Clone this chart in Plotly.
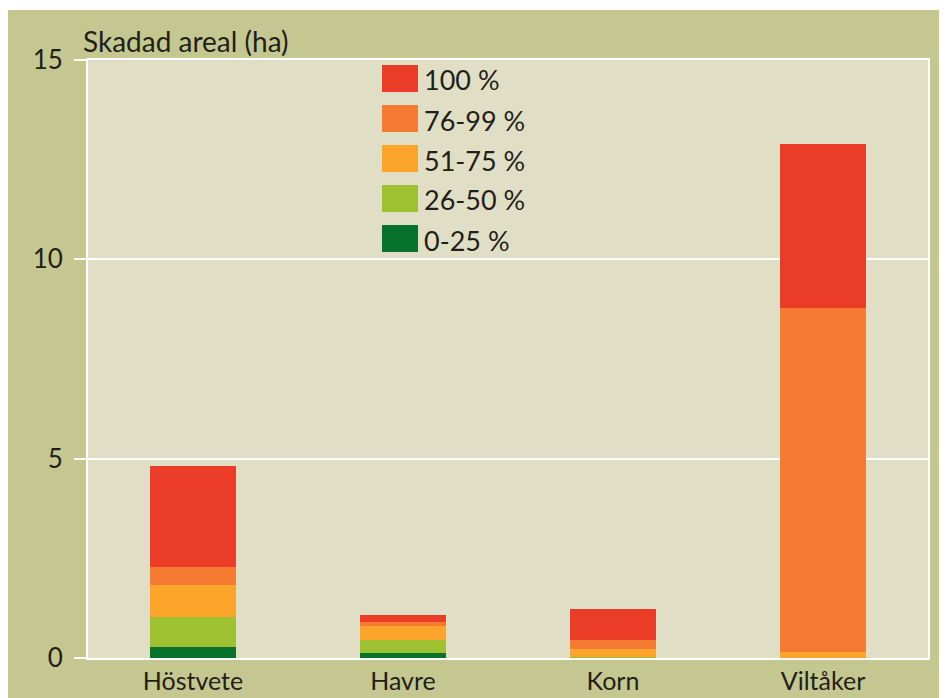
import plotly.graph_objects as go

categories = ["Höstvete", "Havre", "Korn", "Viltåker"]
series_names = ["0-25 %", "26-50 %", "51-75 %", "76-99 %", "100 %"]
series_colors = ["#07722c", "#9ec131", "#fda52b", "#f57b33", "#eb3c27"]
s_0_25 = [0.28, 0.13, 0.0, 0.0]
s_26_50 = [0.75, 0.32, 0.03, 0.0]
s_51_75 = [0.80, 0.35, 0.20, 0.15]
s_76_99 = [0.45, 0.10, 0.23, 8.64]
s_100 = [2.54, 0.18, 0.78, 4.11]
series_values = [s_0_25, s_26_50, s_51_75, s_76_99, s_100]
y_ticks = [0, 5, 10, 15]
y_title = "Skadad areal (ha)"

W, H = 947, 698
OX, OY = 8, 8  # page body margin
L, R, T, B = 80, 27, 52, 48
PW, PH = W - L - R, H - T - B

def px(x):  # page pixel -> paper
    return (x - OX - L) / PW

def py(y):
    return (H - B - (y - OY)) / PH

FONT = "Lato"
TXT = "#231f18"
OLIVE = "#c4c790"
BEIGE = "#e0dfc6"

fig = go.Figure()
for name, color, vals in zip(series_names, series_colors, series_values):
    fig.add_trace(go.Bar(x=categories, y=vals, name=name,
                         marker=dict(color=color, line=dict(width=0))))

shapes = [
    dict(type="rect", xref="paper", yref="paper", x0=px(0), x1=px(W + 20),
         y0=py(10), y1=py(0), fillcolor="white", line=dict(width=0), layer="above"),
]
annotations = [
    dict(text=y_title, xref="paper", yref="paper", x=px(81), y=py(41),
         xanchor="left", yanchor="middle", showarrow=False,
         font=dict(family=FONT, size=28, color=TXT)),
]
# manual legend (reversed order: 100 % on top)
top0, step = 65, 40
for i, (name, color) in enumerate(zip(series_names[::-1], series_colors[::-1])):
    y0 = top0 + i * step
    shapes.append(dict(type="rect", xref="paper", yref="paper",
                       x0=px(382), x1=px(418), y0=py(y0 + 27), y1=py(y0),
                       fillcolor=color, line=dict(width=0), layer="above"))
    annotations.append(dict(text=name, xref="paper", yref="paper",
                            x=px(422), y=py(y0 + 15), xanchor="left", yanchor="middle",
                            showarrow=False, font=dict(family=FONT, size=27, color=TXT)))

fig.update_layout(
    width=W, height=H,
    margin=dict(l=L, r=R, t=T, b=B, pad=0),
    paper_bgcolor=OLIVE, plot_bgcolor=BEIGE,
    barmode="stack", bargap=0.595, showlegend=False,
    font=dict(family=FONT, size=25, color=TXT),
    shapes=shapes, annotations=annotations,
    xaxis=dict(showgrid=False, showline=True, linecolor="white", linewidth=2,
               mirror=True, ticks="", tickfont=dict(size=25, color=TXT),
               fixedrange=True),
    yaxis=dict(range=[0, 15], tickvals=y_ticks, showgrid=True, gridcolor="white",
               gridwidth=2, showline=True, linecolor="white", linewidth=2, mirror=True,
               ticks="outside", ticklen=12, tickcolor="white", tickwidth=1.5,
               ticklabelstandoff=6,
               zeroline=False, tickfont=dict(size=26, color=TXT), fixedrange=True),
)

fig.write_html("out.html")
